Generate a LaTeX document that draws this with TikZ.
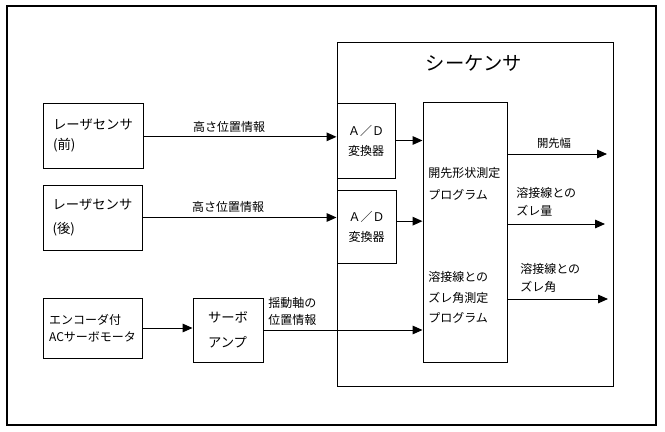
\documentclass[tikz,border=0pt]{standalone}
\usepackage{fontspec}
\setmainfont{Noto Sans CJK JP}
\usetikzlibrary{arrows.meta}

\begin{document}
\begin{tikzpicture}[x=0.75pt,y=-0.75pt,
    box/.style={draw, line width=0.75pt, inner sep=0pt, align=left, font=\fontsize{10}{15}\selectfont},
    lbl/.style={inner sep=0pt, align=left, font=\fontsize{9}{13.5}\selectfont},
    arr/.style={line width=0.75pt, -{Triangle[length=7.5pt,width=6.5pt]}}]
  \useasboundingbox (0,0) rectangle (665,432);
  \draw [line width=1.5pt] (7,6) rectangle (656,425);
  % sequencer and its parts
  \node [box, minimum width=207pt, minimum height=258pt] (seq) at (475,214) {};
  \node [lbl, font=\fontsize{14.5}{14.5}\selectfont] (seqt) at (474,63) {シーケンサ};
  \node [box, align=center, font=\fontsize{9}{15}\selectfont, minimum width=43.5pt, minimum height=56.25pt] (ad1) at (366,140.5) {Ａ／Ｄ\\変換器};
  \node [box, align=center, font=\fontsize{9}{15}\selectfont, minimum width=44.25pt, minimum height=54.75pt] (ad2) at (366.5,226.5) {Ａ／Ｄ\\変換器};
  \node [box, minimum width=63pt, minimum height=195pt] (prog) at (465,232) {};
  \node [lbl, anchor=west, font=\fontsize{9}{16.5}\selectfont] (p1) at (428,184) {開先形状測定\\プログラム};
  \node [lbl, anchor=west, font=\fontsize{9}{15.4}\selectfont] (p2) at (428,297.5) {溶接線との\\ズレ角測定\\プログラム};
  % sensors and servo
  \node [box, minimum width=75pt, minimum height=48.75pt] (lf) at (93,135.5) {レーザセンサ\\(前)};
  \node [box, font=\fontsize{10}{18}\selectfont, minimum width=74.25pt, minimum height=48.75pt] (lr) at (92.5,217.5) {レーザセンサ\\(後)};
  \node [box, font=\fontsize{9}{12.75}\selectfont, minimum width=74.25pt, minimum height=45pt] (enc) at (92.5,328) {エンコーダ付\\ACサーボモータ};
  \node [box, font=\fontsize{10}{18.75}\selectfont, minimum width=52.5pt, minimum height=48pt] (amp) at (228,330) {サーボ\\アンプ};
  % outputs
  \coordinate (o1) at (607,154);
  \coordinate (o2) at (605,224);
  \coordinate (o3) at (608,299);
  \draw [arr] ([yshift=-1pt]lf.east) -- ([yshift=-1pt]lf.east -| ad1.west);
  \draw [arr] (lr.east) -- (lr.east -| ad2.west);
  \draw [arr] (ad1.east) -- (ad1.east -| prog.west);
  \draw [arr] ([yshift=4pt]ad2.east) -- ([yshift=4pt]ad2.east -| prog.west);
  \draw [arr] (enc.east) -- (enc.east -| amp.west);
  \draw [arr] (amp.east) -- (amp.east -| prog.west);
  \draw [arr] (o1 -| prog.east) -- (o1);
  \draw [arr] (o2 -| prog.east) -- (o2);
  \draw [arr] (o3 -| prog.east) -- (o3);
  % labels
  \node [lbl] (h1) at (229,127) {高さ位置情報};
  \node [lbl] (h2) at (228,207) {高さ位置情報};
  \node [lbl, anchor=west, font=\fontsize{9}{12.75}\selectfont] (sw) at (268,311.5) {揺動軸の\\位置情報};
  \node [lbl, font=\fontsize{8.5}{8.5}\selectfont] (w) at (554,143) {開先幅};
  \node [lbl, anchor=west] (dq) at (516,202) {溶接線との\\ズレ量};
  \node [lbl, anchor=west] (da) at (520,277.5) {溶接線との\\ズレ角};
\end{tikzpicture}
\end{document}
